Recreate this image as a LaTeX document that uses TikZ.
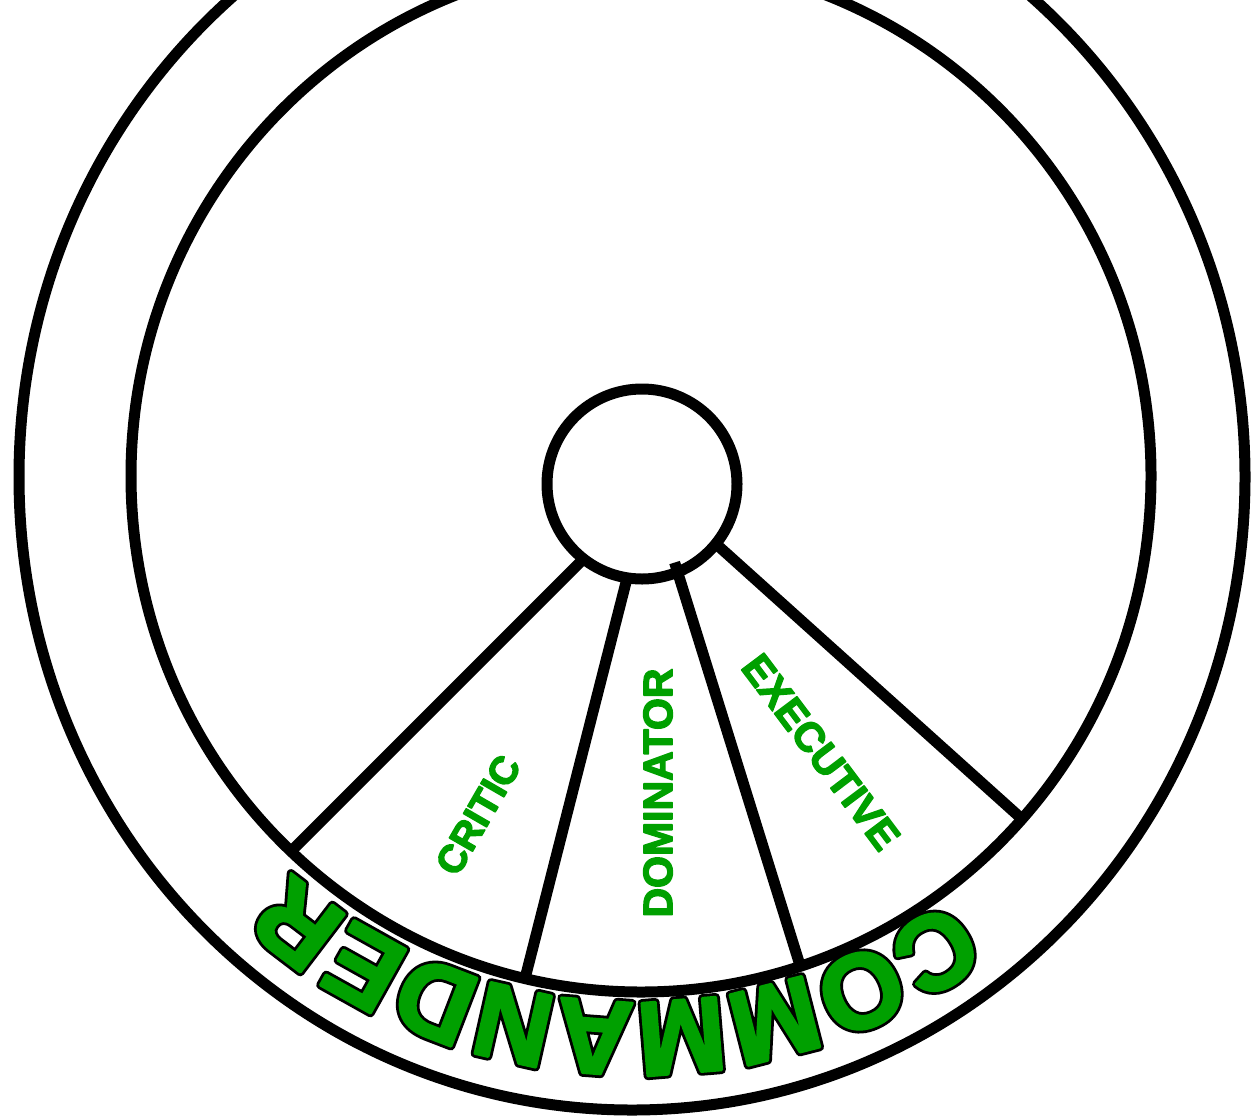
\documentclass[tikz,border=0pt]{standalone}
\usepackage{fontspec}
\setmainfont{Liberation Sans}
\usetikzlibrary{shapes.geometric,calc}
\definecolor{lgreen}{RGB}{0,160,0}
\newcommand\outlblack{\special{pdf:literal direct 2 Tr 4.2 w 1 j 0 0 0 RG}}
\newcommand\outlgreen{\special{pdf:literal direct 2 Tr 1.4 w 1 j}}
\newcommand\heavylbl{\special{pdf:literal direct 2 Tr 0.7 w 1 j}}
\newcommand\outloff{\special{pdf:literal direct 0 Tr}}
\tikzset{
  ring/.style={draw=black, line width=5.5pt, ellipse, inner sep=0pt, outer sep=0pt},
  spoke/.style={draw=black, line width=5.5pt},
  lbl/.style={text=lgreen, font=\bfseries\fontsize{20.5}{24}\selectfont, inner sep=0pt},
  arcletter/.style={anchor=base, inner sep=0pt, font=\bfseries\fontsize{53}{60}\selectfont, text=lgreen},
}
\begin{document}
\begin{tikzpicture}[x=0.5pt,y=-0.5pt]
\useasboundingbox (0,0) rectangle (1256,1119);
\clip (0,0) rectangle (1256,1119);
\node[ring, minimum width=613pt, minimum height=633pt] (outer) at (632,477) {};
\node[ring, minimum width=510pt, minimum height=516pt] (rim) at (641,476) {};
\node[ring, circle, minimum size=95pt] (hub) at (642,484) {};
\draw[spoke] (hub.232) -- (rim.227);
\draw[spoke] (hub.261) -- (rim.257.5);
\draw[spoke, shorten <=-5pt] (hub.292) -- (rim.288);
\draw[spoke] (hub.321) -- (rim.318);
\node[lbl, rotate=60, font=\bfseries\fontsize{19.5}{24}\selectfont] (critic) at (478,815) {\heavylbl CRITIC\outloff};
\node[lbl, rotate=90] (dominator) at (658,793) {\heavylbl DOMINATOR\outloff};
\node[lbl, rotate=-53] (executive) at (821,752) {\heavylbl EXECUTIVE\outloff};
\foreach \ch/\ang [count=\i] in {C/57.5,O/66.2,M/75.6,M/85.3,A/94.3,N/102.7,D/111.1,E/119.2,R/127.3}
  \node[arcletter, rotate=-\ang-90] (cmdback\i) at ($(636,480)+(\ang:522)$) {\outlblack\ch\outloff};
\foreach \ch/\ang [count=\i] in {C/57.5,O/66.2,M/75.6,M/85.3,A/94.3,N/102.7,D/111.1,E/119.2,R/127.3}
  \node[arcletter, rotate=-\ang-90] (cmd\i) at ($(636,480)+(\ang:522)$) {\outlgreen\ch\outloff};
\end{tikzpicture}
\end{document}
